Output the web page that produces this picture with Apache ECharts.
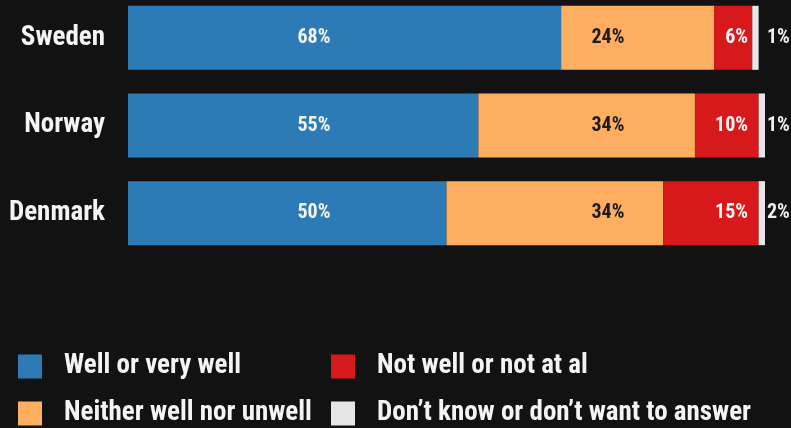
<!DOCTYPE html>
<html>
<head>
<meta charset="utf-8">
<script src="https://cdn.jsdelivr.net/npm/echarts@6/dist/echarts.min.js"></script>
<style>
  html, body { margin: 0; padding: 0; background: #121212; }
  #chart { width: 791px; height: 428px; }
</style>
</head>
<body>
<div id="chart"></div>
<script>
// Survey answers per country (percent)
const countries = ['Sweden', 'Norway', 'Denmark'];
const wellValues = [68, 55, 50];
const neitherValues = [24, 34, 34];
const notWellValues = [6, 10, 15];
const dontKnowValues = [1, 1, 2];

const seriesNames = [
  'Well or very well',
  'Neither well nor unwell',
  'Not well or not at al',
  'Don\u2019t know or don\u2019t want to answer'
];

const FONT = '"Roboto Condensed", "Open Sans Condensed", sans-serif';
const colors = ['#2c7bb6', '#fdae61', '#d7191c', '#e6e6e6'];
const labelColors = ['#f4f4f4', '#1c1c1c', '#f4f4f4', '#eeeeee'];
// label columns (px): blue/orange centred, red right-aligned, grey left-aligned outside
const labelColumns = [
  { x: 314, align: 'center' },
  { x: 608, align: 'center' },
  { x: 748, align: 'right' },
  { x: 767, align: 'left' }
];
// legend slots: two columns, two rows
const legendSlots = [
  { left: 18, top: 353 },
  { left: 18, top: 400 },
  { left: 331, top: 353 },
  { left: 331, top: 400 }
];

const valueSets = [wellValues, neitherValues, notWellValues, dontKnowValues];

function buildSeries(labelOffsets) {
  return valueSets.map((vals, si) => ({
    name: seriesNames[si],
    type: 'bar',
    stack: 'total',
    barWidth: 64,
    itemStyle: { color: colors[si] },
    emphasis: { disabled: true },
    data: vals.map((v, i) => ({
      value: v,
      label: {
        show: true,
        position: labelOffsets ? [labelOffsets[si][i], '50%'] : 'inside',
        align: labelColumns[si].align,
        verticalAlign: 'middle',
        formatter: v + '%',
        color: labelColors[si],
        fontFamily: FONT,
        fontWeight: 'bold',
        fontSize: 20
      }
    }))
  }));
}

const legendText = {
  color: '#f4f4f4',
  fontFamily: FONT,
  fontWeight: 'bold',
  fontSize: 27,
  padding: [0, 0, 0, 17]
};

const option = {
  backgroundColor: '#121212',
  animation: false,
  grid: { left: 128, width: 637, top: -6, height: 263, containLabel: false, outerBoundsMode: 'none' },
  xAxis: { type: 'value', min: 0, max: 100, show: false },
  yAxis: {
    type: 'category',
    data: countries,
    inverse: true,
    axisLine: { show: false },
    axisTick: { show: false },
    axisLabel: {
      margin: 23,
      padding: [4, 0, 0, 0],
      color: '#f4f4f4',
      fontFamily: FONT,
      fontWeight: 'bold',
      fontSize: 27
    }
  },
  legend: seriesNames.map((name, i) => ({
    data: [name],
    left: legendSlots[i].left,
    top: legendSlots[i].top,
    padding: 0,
    icon: 'rect',
    itemWidth: 24,
    itemHeight: 24,
    textStyle: legendText
  })),
  series: buildSeries(null)
};

const chart = echarts.init(document.getElementById('chart'));
chart.setOption(option);

// place each label in its column, relative to the start of its segment
const offsets = valueSets.map((vals, si) => vals.map((v, i) => {
  let before = 0;
  for (let k = 0; k < si; k++) before += valueSets[k][i];
  const startPx = chart.convertToPixel({ xAxisIndex: 0 }, before);
  return labelColumns[si].x - startPx;
}));
chart.setOption({ series: buildSeries(offsets) });
</script>
</body>
</html>
